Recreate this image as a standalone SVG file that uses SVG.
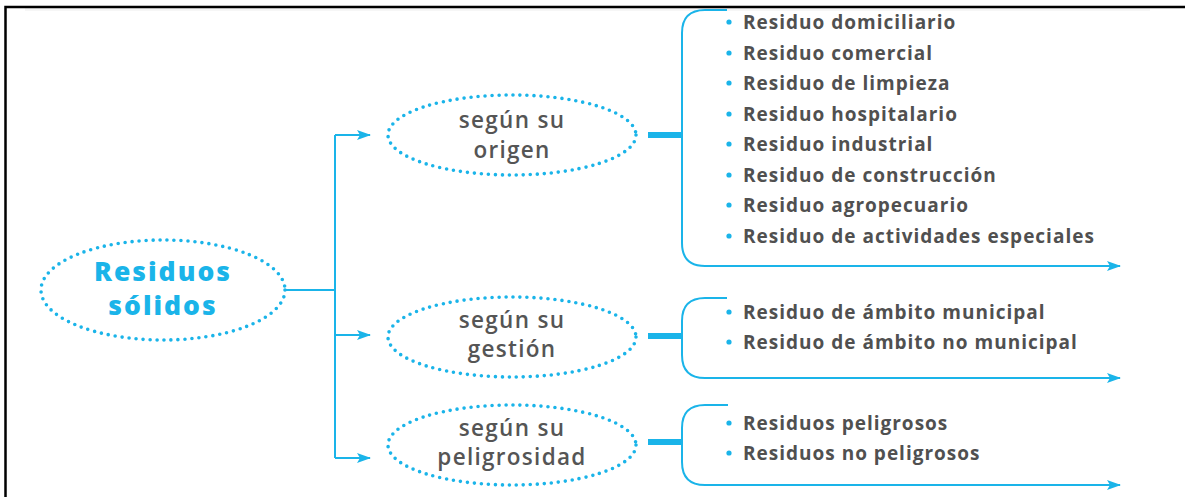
<svg xmlns="http://www.w3.org/2000/svg" width="1185" height="497" viewBox="0 0 1185 497">
<defs>
<marker id="ah" viewBox="0 0 14 10" refX="13" refY="5" markerWidth="14" markerHeight="10" markerUnits="userSpaceOnUse" orient="auto">
<path d="M0 0 L14 5 L0 10 L3 5 Z" fill="#1ab4e9"/>
</marker>
<style>
.dot{fill:none;stroke:#1ab4e9;stroke-width:3.6;stroke-linecap:round;stroke-dasharray:0 7}
.ln{fill:none;stroke:#1ab4e9;stroke-width:2}
.bar{stroke:#1ab4e9;stroke-width:6}
.main{font-family:"Open Sans","Noto Sans",sans-serif;font-weight:800;font-size:26.5px;letter-spacing:2px;fill:#1ab4e9;text-anchor:middle}
.cat{font-family:"Open Sans","Noto Sans",sans-serif;font-weight:600;font-size:22.5px;letter-spacing:1.3px;fill:#555;text-anchor:middle}
.it{font-family:"Open Sans","Noto Sans",sans-serif;font-weight:700;font-size:19px;letter-spacing:1px;fill:#505050}
.bul{fill:#1ab4e9}
</style>
</defs>
<rect width="1185" height="497" fill="#fff"/>
<rect x="25" y="8" width="1125" height="3" fill="#f6f6f6"/>
<path d="M5.5 497 V7 H1185" fill="none" stroke="#000" stroke-width="2.5"/>

<g id="connectors">
<path class="ln" d="M285 290 H335"/>
<path class="ln" d="M335 135 V458"/>
<path class="ln" d="M335 135 H370" marker-end="url(#ah)"/>
<path class="ln" d="M335 335 H370" marker-end="url(#ah)"/>
<path class="ln" d="M335 458 H370" marker-end="url(#ah)"/>
<line class="bar" x1="648" y1="135" x2="682" y2="135"/>
<line class="bar" x1="648" y1="336" x2="682" y2="336"/>
<line class="bar" x1="648" y1="442" x2="682" y2="442"/>
<path class="ln" d="M727 10 H705 Q682 10 682 33 V243 Q682 266 705 266 H1120" marker-end="url(#ah)"/>
<path class="ln" d="M727 298 H705 Q682 298 682 321 V355 Q682 378 705 378 H1120" marker-end="url(#ah)"/>
<path class="ln" d="M728 405 H705 Q682 405 682 428 V462 Q682 485 705 485 H1120" marker-end="url(#ah)"/>
</g>

<g id="residuos-solidos">
<ellipse class="dot" cx="163" cy="290" rx="122" ry="50"/>
<text class="main" x="163" y="281">Residuos</text>
<text class="main" x="163" y="315">sólidos</text>
</g>

<g id="segun-origen">
<ellipse class="dot" cx="512" cy="135" rx="124" ry="40"/>
<text class="cat" x="512" y="128">según su</text>
<text class="cat" x="512" y="158">origen</text>
</g>

<g id="segun-gestion">
<ellipse class="dot" cx="512" cy="337" rx="124" ry="40"/>
<text class="cat" x="512" y="328">según su</text>
<text class="cat" x="512" y="357">gestión</text>
</g>

<g id="segun-peligrosidad">
<ellipse class="dot" cx="512" cy="445" rx="124" ry="40"/>
<text class="cat" x="512" y="436">según su</text>
<text class="cat" x="512" y="465">peligrosidad</text>
</g>

<g id="lista-origen">
<circle class="bul" cx="729" cy="22" r="2.6"/><text class="it" x="743" y="28.5">Residuo domiciliario</text>
<circle class="bul" cx="729" cy="53" r="2.6"/><text class="it" x="743" y="59.5">Residuo comercial</text>
<circle class="bul" cx="729" cy="83" r="2.6"/><text class="it" x="743" y="89.5">Residuo de limpieza</text>
<circle class="bul" cx="729" cy="114" r="2.6"/><text class="it" x="743" y="120.5">Residuo hospitalario</text>
<circle class="bul" cx="729" cy="144" r="2.6"/><text class="it" x="743" y="150.5">Residuo industrial</text>
<circle class="bul" cx="729" cy="175" r="2.6"/><text class="it" x="743" y="181.5">Residuo de construcción</text>
<circle class="bul" cx="729" cy="205" r="2.6"/><text class="it" x="743" y="211.5">Residuo agropecuario</text>
<circle class="bul" cx="729" cy="236" r="2.6"/><text class="it" x="743" y="242.5">Residuo de actividades especiales</text>
</g>

<g id="lista-gestion">
<circle class="bul" cx="729" cy="312" r="2.6"/><text class="it" x="743" y="318.5">Residuo de ámbito municipal</text>
<circle class="bul" cx="729" cy="342" r="2.6"/><text class="it" x="743" y="348.5">Residuo de ámbito no municipal</text>
</g>

<g id="lista-peligrosidad">
<circle class="bul" cx="729" cy="423" r="2.6"/><text class="it" x="743" y="429.5">Residuos peligrosos</text>
<circle class="bul" cx="729" cy="453" r="2.6"/><text class="it" x="743" y="459.5">Residuos no peligrosos</text>
</g>
</svg>
